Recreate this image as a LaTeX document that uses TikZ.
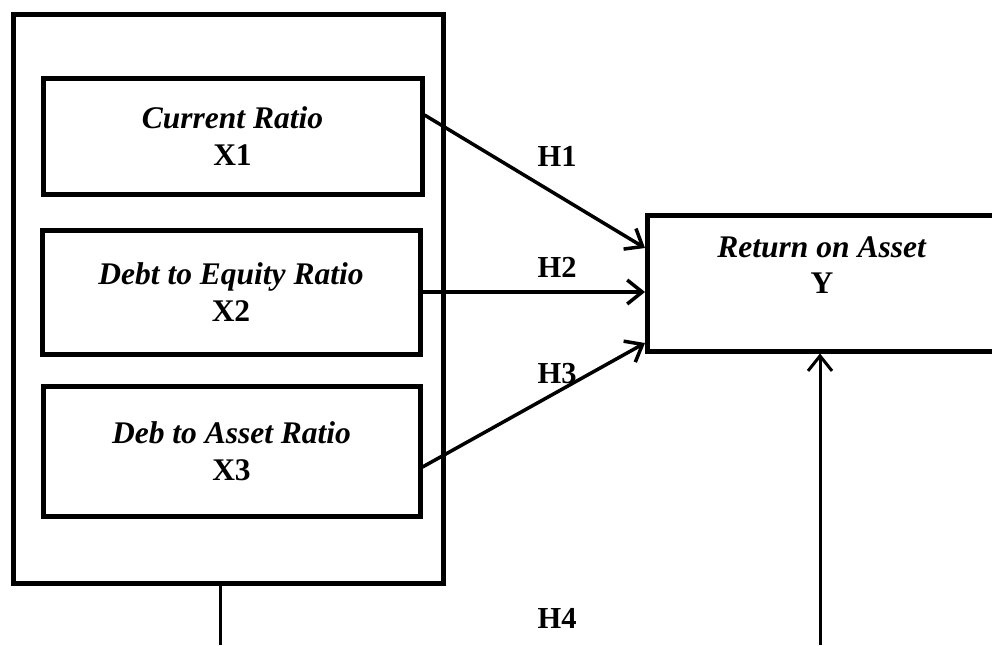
\documentclass[tikz,border=0pt]{standalone}
\usepackage{fontspec}
\setmainfont{Liberation Serif}
\usetikzlibrary{arrows.meta,calc}
\begin{document}
\begin{tikzpicture}[x=1pt,y=-1pt,
  box/.style={draw,line width=5pt,rectangle,inner sep=0pt,align=center,
    font=\fontsize{31.5}{37}\selectfont\bfseries},
  hlab/.style={font=\fontsize{30.5}{34}\selectfont\bfseries,inner sep=0pt},
  arr/.style={line width=3.5pt,-{Straight Barb[length=15pt,width=24pt]}},
  plain/.style={line width=3pt}]
\clip (0,0) rectangle (992,645);
\useasboundingbox (0,0) rectangle (992,645);
% outer group box
\node[box,minimum width=430pt,minimum height=569pt] (outer) at (228,298.5) {};
% inner boxes
\node[box,minimum width=379pt,minimum height=116pt] (x1) at (232.5,136) {\textit{Current Ratio}\\X1};
\node[box,minimum width=378pt,minimum height=124pt] (x2) at (231,292) {\textit{Debt to Equity Ratio}\\X2};
\node[box,minimum width=377pt,minimum height=130pt] (x3) at (231.5,451) {\textit{Deb to Asset Ratio}\\X3};
% dependent box (runs past the right edge)
\node[box,minimum width=380pt,minimum height=136pt] (y) at (837.5,283) {};
\node[font=\fontsize{31.5}{36}\selectfont\bfseries,align=center,inner sep=0pt] (ylab) at (822,265) {\textit{Return on Asset}\\Y};
% connectors
\draw[arr] ($(x1.east)+(0,-21)$) -- ($(y.west)+(0,-35)$);
\draw[arr] (x2.east) -- (x2.east -| y.west);
\draw[arr] ($(x3.east)+(0,16)$) -- ($(y.west)+(0,60)$);
\coordinate (b1) at (220,645);
\coordinate (b2) at (820,645);
\draw[plain] (outer.south -| b1) -- (b1);
\draw[plain,-{Straight Barb[length=15pt,width=24pt]}] (b2) -- (b2 |- y.south);
% labels
\node[hlab] (h1) at (557,156) {H1};
\node[hlab] (h2) at (557,267) {H2};
\node[hlab] (h3) at (557,374) {H3};
\node[hlab] (h4) at (557,618) {H4};
\end{tikzpicture}
\end{document}
